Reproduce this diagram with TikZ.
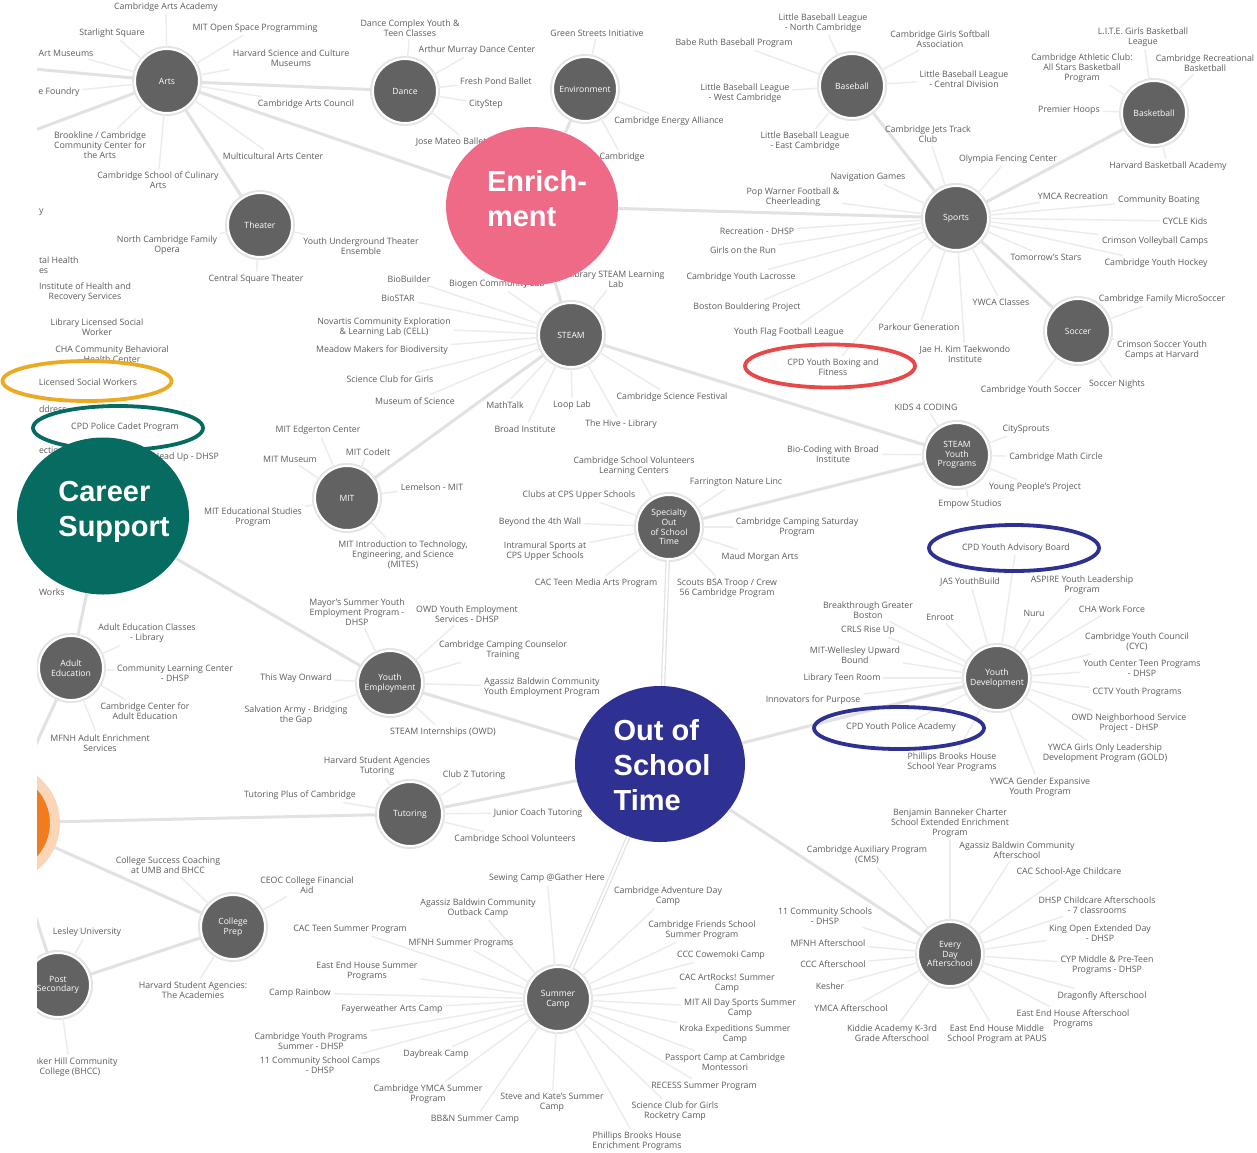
\documentclass[tikz,border=0pt]{standalone}
\usepackage{fontspec}
\setmainfont{Open Sans}
\newfontfamily\bigfont{Liberation Sans}
\usetikzlibrary{shapes.geometric}
\definecolor{hubgray}{RGB}{98,98,98}
\definecolor{halo}{RGB}{228,228,228}
\definecolor{linkgray}{RGB}{226,226,226}
\definecolor{spokegray}{RGB}{236,236,236}
\definecolor{lblgray}{RGB}{92,92,92}
\definecolor{pinkc}{RGB}{239,106,135}
\definecolor{tealc}{RGB}{6,107,96}
\definecolor{navyc}{RGB}{46,49,146}
\definecolor{goldc}{RGB}{234,170,34}
\definecolor{redc}{RGB}{232,72,72}
\definecolor{orangec}{RGB}{240,124,31}
\definecolor{orangering}{RGB}{251,213,184}
\tikzset{
  lbl/.style={font=\fontsize{8.8}{9.9}\selectfont, text=lblgray, align=center, inner sep=1pt, outer sep=2pt},
  hub/.style={circle, minimum size=64pt, inner sep=0pt, fill=hubgray, draw=white, line width=2pt,
    preaction={draw=halo, line width=6pt}, text=white, font=\fontsize{8.6}{9.8}\selectfont, align=center},
  spoke/.style={draw=spokegray, line width=1.4pt},
  link/.style={draw=linkgray, line width=3pt},
  dlink/.style={draw=linkgray, line width=1.2pt, double=white, double distance=2pt},
  big/.style={ellipse, inner sep=0pt, draw=none},
  bigtxt/.style={font=\bigfont\bfseries\fontsize{29}{35}\selectfont, text=white, align=left, inner sep=0pt},
  hl/.style={ellipse, inner sep=0pt, line width=3.8pt, fill=none}
}
\begin{document}
\begin{tikzpicture}[x=1pt,y=-1pt]
\useasboundingbox (0,0) rectangle (1257,1152);
\fill[white] (0,0) rectangle (1257,1152);
\begin{scope}
\clip (37,0) rectangle (1257,1152);
% hubs
\node[hub] (arts) at (167,81) {Arts};
\node[hub] (dance) at (405,91) {Dance};
\node[hub] (env) at (585,89) {Environment};
\node[hub] (baseball) at (852,86) {Baseball};
\node[hub] (basket) at (1154,113) {Basketball};
\node[hub] (theater) at (260,225) {Theater};
\node[hub] (sports) at (956,218) {Sports};
\node[hub] (steam) at (571,335) {STEAM};
\node[hub] (soccer) at (1078,331) {Soccer};
\node[hub] (syp) at (957,455) {STEAM\\Youth\\Programs};
\node[hub] (mit) at (347,498) {MIT};
\node[hub] (spec) at (669,527) {Specialty\\Out\\of School\\Time};
\node[hub] (adulted) at (71,668) {Adult\\Education};
\node[hub] (youthemp) at (390,683) {Youth\\Employment};
\node[hub] (youthdev) at (997,678) {Youth\\Development};
\node[hub] (tutor) at (410,814) {Tutoring};
\node[hub] (college) at (233,927) {College\\Prep};
\node[hub] (postsec) at (58,985) {Post\\Secondary};
\node[hub] (summer) at (558,999) {Summer\\Camp};
\node[hub] (everyday) at (950,954) {Every\\Day\\Afterschool};
\node[circle, minimum size=110pt, inner sep=0pt, fill=orangec, draw=orangering, line width=10pt] (orange) at (0,823) {};
\coordinate (offa1) at (0,66);
\coordinate (offa2) at (0,143);
\coordinate (offae) at (15,790);
\coordinate (offps) at (25,885);
% links among hubs
\draw[link] (arts) -- (dance);
\draw[link] (arts) -- (theater);
\draw[link] (arts) -- (offa1);
\draw[link] (arts) -- (offa2);
\draw[link] (baseball) -- (sports);
\draw[link] (basket) -- (sports);
\draw[link] (soccer) -- (sports);
\draw[link] (steam) -- (syp);
\draw[link] (steam) -- (mit);
\draw[link] (spec) -- (syp);
\draw[link] (adulted) -- (offae);
\draw[link] (postsec) -- (offps);
\draw[link] (orange) -- (tutor);
\draw[link] (orange) -- (college);
\draw[link] (college) -- (postsec);
% labels + spokes
\foreach \n/\x/\y/\t in {1/166/7/{Cambridge Arts Academy}, 2/112/33/{Starlight Square}, 3/255/28/{MIT Open Space Programming}, 4/66/53/{Art Museums}, 5/291/58/{Harvard Science and Culture\\Museums}, 6/59/92/{e Foundry}, 7/306/104/{Cambridge Arts Council}, 8/100/145/{Brookline / Cambridge\\Community Center for\\the Arts}, 9/273/156/{Multicultural Arts Center}, 10/158/180/{Cambridge School of Culinary\\Arts}}
 {\node[lbl] (arts\n) at (\x,\y) {\t}; \draw[spoke] (arts) -- (arts\n);}
\foreach \n/\x/\y/\t in {1/167/245/{North Cambridge Family\\Opera}, 2/361/246/{Youth Underground Theater\\Ensemble}, 3/256/279/{Central Square Theater}}
 {\node[lbl] (theater\n) at (\x,\y) {\t}; \draw[spoke] (theater) -- (theater\n);}
\foreach \n/\x/\y/\t in {1/410/28/{Dance Complex Youth \&\\Teen Classes}, 2/477/50/{Arthur Murray Dance Center}, 3/496/81/{Fresh Pond Ballet}, 4/486/104/{CityStep}, 5/468/142/{Jose Mateo Ballet Theatre}}
 {\node[lbl] (dance\n) at (\x,\y) {\t}; \draw[spoke] (dance) -- (dance\n);}
\foreach \n/\x/\y/\t in {1/597/33/{Green Streets Initiative}, 2/669/121/{Cambridge Energy Alliance}, 3/622/157/{Cambridge}}
 {\node[lbl] (env\n) at (\x,\y) {\t}; \draw[spoke] (env) -- (env\n);}
\foreach \n/\x/\y/\t in {1/823/23/{Little Baseball League\\- North Cambridge}, 2/734/43/{Babe Ruth Baseball Program}, 3/940/39/{Cambridge Girls Softball\\Association}, 4/745/93/{Little Baseball League\\- West Cambridge}, 5/964/79/{Little Baseball League\\- Central Division}, 6/805/141/{Little Baseball League\\- East Cambridge}}
 {\node[lbl] (baseball\n) at (\x,\y) {\t}; \draw[spoke] (baseball) -- (baseball\n);}
\foreach \n/\x/\y/\t in {1/1143/37/{L.I.T.E. Girls Basketball\\League}, 2/1082/68/{Cambridge Athletic Club:\\All Stars Basketball\\Program}, 3/1205/63/{Cambridge Recreational\\Basketball}, 4/1069/110/{Premier Hoops}, 5/1168/166/{Harvard Basketball Academy}}
 {\node[lbl] (basket\n) at (\x,\y) {\t}; \draw[spoke] (basket) -- (basket\n);}
\foreach \n/\x/\y/\t in {1/928/134/{Cambridge Jets Track\\Club}, 2/1008/159/{Olympia Fencing Center}, 3/868/177/{Navigation Games}, 4/793/197/{Pop Warner Football \&\\Cheerleading}, 5/1073/196/{YMCA Recreation}, 6/1159/200/{Community Boating}, 7/1185/221/{CYCLE Kids}, 8/757/231/{Recreation - DHSP}, 9/743/250/{Girls on the Run}, 10/1155/241/{Crimson Volleyball Camps}, 11/1046/257/{Tomorrow's Stars}, 12/1156/263/{Cambridge Youth Hockey}, 13/741/277/{Cambridge Youth Lacrosse}, 14/747/307/{Boston Bouldering Project}, 15/1001/302/{YWCA Classes}, 16/789/332/{Youth Flag Football League}, 17/919/327/{Parkour Generation}, 18/965/354/{Jae H. Kim Taekwondo\\Institute}, 19/833/367/{CPD Youth Boxing and\\Fitness}}
 {\node[lbl] (sports\n) at (\x,\y) {\t}; \draw[spoke] (sports) -- (sports\n);}
\foreach \n/\x/\y/\t in {1/1162/299/{Cambridge Family MicroSoccer}, 2/1162/350/{Crimson Soccer Youth\\Camps at Harvard}, 3/1031/390/{Cambridge Youth Soccer}, 4/1117/384/{Soccer Nights}}
 {\node[lbl] (soccer\n) at (\x,\y) {\t}; \draw[spoke] (soccer) -- (soccer\n);}
\foreach \n/\x/\y/\t in {1/409/279/{BioBuilder}, 2/497/284/{Biogen Community Lab}, 3/616/279/{Library STEAM Learning\\Lab}, 4/398/298/{BioSTAR}, 5/384/327/{Novartis Community Exploration\\\& Learning Lab (CELL)}, 6/382/350/{Meadow Makers for Biodiversity}, 7/390/379/{Science Club for Girls}, 8/415/401/{Museum of Science}, 9/505/405/{MathTalk}, 10/572/405/{Loop Lab}, 11/672/397/{Cambridge Science Festival}, 12/525/429/{Broad Institute}, 13/621/424/{The Hive - Library}}
 {\node[lbl] (steam\n) at (\x,\y) {\t}; \draw[spoke] (steam) -- (steam\n);}
\foreach \n/\x/\y/\t in {1/926/407/{KIDS 4 CODING}, 2/833/454/{Bio-Coding with Broad\\Institute}, 3/1026/429/{CitySprouts}, 4/1056/457/{Cambridge Math Circle}, 5/1035/487/{Young People's Project}, 6/970/504/{Empow Studios}}
 {\node[lbl] (syp\n) at (\x,\y) {\t}; \draw[spoke] (syp) -- (syp\n);}
\foreach \n/\x/\y/\t in {1/318/430/{MIT Edgerton Center}, 2/290/459/{MIT Museum}, 3/368/452/{MIT CodeIt}, 4/432/487/{Lemelson - MIT}, 5/253/517/{MIT Educational Studies\\Program}, 6/403/555/{MIT Introduction to Technology,\\Engineering, and Science\\(MITES)}}
 {\node[lbl] (mit\n) at (\x,\y) {\t}; \draw[spoke] (mit) -- (mit\n);}
\foreach \n/\x/\y/\t in {1/634/466/{Cambridge School Volunteers\\Learning Centers}, 2/736/482/{Farrington Nature Linc}, 3/579/495/{Clubs at CPS Upper Schools}, 4/540/522/{Beyond the 4th Wall}, 5/797/527/{Cambridge Camping Saturday\\Program}, 6/545/551/{Intramural Sports at\\CPS Upper Schools}, 7/760/557/{Maud Morgan Arts}, 8/596/583/{CAC Teen Media Arts Program}, 9/727/588/{Scouts BSA Troop / Crew\\56 Cambridge Program}}
 {\node[lbl] (spec\n) at (\x,\y) {\t}; \draw[spoke] (spec) -- (spec\n);}
\foreach \n/\x/\y/\t in {1/1016/548/{CPD Youth Advisory Board}, 2/970/582/{JAS YouthBuild}, 3/1082/585/{ASPIRE Youth Leadership\\Program}, 4/868/610/{Breakthrough Greater\\Boston}, 5/940/617/{Enroot}, 6/1034/613/{Nuru}, 7/1112/609/{CHA Work Force}, 8/868/630/{CRLS Rise Up}, 9/855/655/{MIT-Wellesley Upward\\Bound}, 10/1137/642/{Cambridge Youth Council\\(CYC)}, 11/1142/668/{Youth Center Teen Programs\\- DHSP}, 12/842/678/{Library Teen Room}, 13/1137/692/{CCTV Youth Programs}, 14/813/700/{Innovators for Purpose}, 15/1129/723/{OWD Neighborhood Service\\Project - DHSP}, 16/901/727/{CPD Youth Police Academy}, 17/1105/753/{YWCA Girls Only Leadership\\Development Program (GOLD)}, 18/952/762/{Phillips Brooks House\\School Year Programs}, 19/1040/787/{YWCA Gender Expansive\\Youth Program}}
 {\node[lbl] (youthdev\n) at (\x,\y) {\t}; \draw[spoke] (youthdev) -- (youthdev\n);}
\foreach \n/\x/\y/\t in {1/357/612/{Mayor's Summer Youth\\Employment Program -\\DHSP}, 2/467/614/{OWD Youth Employment\\Services - DHSP}, 3/503/650/{Cambridge Camping Counselor\\Training}, 4/296/678/{This Way Onward}, 5/542/687/{Agassiz Baldwin Community\\Youth Employment Program}, 6/296/715/{Salvation Army - Bridging\\the Gap}, 7/443/732/{STEAM Internships (OWD)}}
 {\node[lbl] (youthemp\n) at (\x,\y) {\t}; \draw[spoke] (youthemp) -- (youthemp\n);}
\foreach \n/\x/\y/\t in {1/147/633/{Adult Education Classes\\- Library}, 2/175/673/{Community Learning Center\\- DHSP}, 3/145/711/{Cambridge Center for\\Adult Education}, 4/100/743/{MFNH Adult Enrichment\\Services}}
 {\node[lbl] (adulted\n) at (\x,\y) {\t}; \draw[spoke] (adulted) -- (adulted\n);}
\foreach \n/\x/\y/\t in {1/377/766/{Harvard Student Agencies\\Tutoring}, 2/474/775/{Club Z Tutoring}, 3/300/795/{Tutoring Plus of Cambridge}, 4/538/813/{Junior Coach Tutoring}, 5/515/839/{Cambridge School Volunteers}}
 {\node[lbl] (tutor\n) at (\x,\y) {\t}; \draw[spoke] (tutor) -- (tutor\n);}
\foreach \n/\x/\y/\t in {1/168/865/{College Success Coaching\\at UMB and BHCC}, 2/307/885/{CEOC College Financial\\Aid}, 3/193/990/{Harvard Student Agencies:\\The Academies}}
 {\node[lbl] (college\n) at (\x,\y) {\t}; \draw[spoke] (college) -- (college\n);}
\foreach \n/\x/\y/\t in {1/87/932/{Lesley University}, 2/70/1067/{Bunker Hill Community\\College (BHCC)}}
 {\node[lbl] (postsec\n) at (\x,\y) {\t}; \draw[spoke] (postsec) -- (postsec\n);}
\foreach \n/\x/\y/\t in {1/350/929/{CAC Teen Summer Program}, 2/547/878/{Sewing Camp @Gather Here}, 3/478/908/{Agassiz Baldwin Community\\Outback Camp}, 4/461/943/{MFNH Summer Programs}, 5/367/971/{East End House Summer\\Programs}, 6/300/993/{Camp Rainbow}, 7/392/1009/{Fayerweather Arts Camp}, 8/311/1041/{Cambridge Youth Programs\\Summer - DHSP}, 9/320/1065/{11 Community School Camps\\- DHSP}, 10/436/1054/{Daybreak Camp}, 11/428/1094/{Cambridge YMCA Summer\\Program}, 12/552/1102/{Steve and Kate's Summer\\Camp}, 13/475/1119/{BB\&N Summer Camp}, 14/637/1141/{Phillips Brooks House\\Enrichment Programs}, 15/668/896/{Cambridge Adventure Day\\Camp}, 16/702/930/{Cambridge Friends School\\Summer Program}, 17/721/955/{CCC Cowemoki Camp}, 18/727/983/{CAC ArtRocks! Summer\\Camp}, 19/740/1008/{MIT All Day Sports Summer\\Camp}, 20/735/1034/{Kroka Expeditions Summer\\Camp}, 21/725/1062/{Passport Camp at Cambridge\\Montessori}, 22/704/1086/{RECESS Summer Program}, 23/675/1111/{Science Club for Girls\\Rocketry Camp}}
 {\node[lbl] (summer\n) at (\x,\y) {\t}; \draw[spoke] (summer) -- (summer\n);}
\foreach \n/\x/\y/\t in {1/867/855/{Cambridge Auxiliary Program\\(CMS)}, 2/950/823/{Benjamin Banneker Charter\\School Extended Enrichment\\Program}, 3/1017/850/{Agassiz Baldwin Community\\Afterschool}, 4/1069/872/{CAC School-Age Childcare}, 5/1097/905/{DHSP Childcare Afterschools\\- 7 classrooms}, 6/825/916/{11 Community Schools\\- DHSP}, 7/1100/933/{King Open Extended Day\\- DHSP}, 8/828/943/{MFNH Afterschool}, 9/833/964/{CCC Afterschool}, 10/1107/965/{CYP Middle \& Pre-Teen\\Programs - DHSP}, 11/830/986/{Kesher}, 12/1102/996/{Dragonfly Afterschool}, 13/851/1008/{YMCA Afterschool}, 14/1073/1019/{East End House Afterschool\\Programs}, 15/892/1033/{Kiddie Academy K-3rd\\Grade Afterschool}, 16/997/1034/{East End House Middle\\School Program at PAUS}}
 {\node[lbl] (everyday\n) at (\x,\y) {\t}; \draw[spoke] (everyday) -- (everyday\n);}
% left-edge labels without a visible hub
\node[lbl, anchor=west] (m0) at (36,212) {y};
\node[lbl, anchor=west, align=left] (m1) at (36,265) {tal Health\\es};
\node[lbl] (m2) at (85,292) {Institute of Health and\\Recovery Services};
\node[lbl] (m3) at (97,327) {Library Licensed Social\\Worker};
\node[lbl] (m4) at (112,354) {CHA Community Behavioral\\Health Center};
\node[lbl] (m5) at (88,382) {Licensed Social Workers};
\node[lbl, anchor=west] (m6) at (36,409) {ddress};
\node[lbl] (m7) at (125,427) {CPD Police Cadet Program};
\node[lbl, anchor=west] (m8) at (36,450) {ection};
\node[lbl, anchor=east] (m9) at (222,457) {Head Up - DHSP};
\node[lbl, anchor=west] (m10) at (36,592) {Works};
\end{scope}
% big category circles
\node[big, fill=pinkc, minimum width=172pt, minimum height=158pt] (enrich) at (532,206) {};
\node[big, fill=tealc, minimum width=172pt, minimum height=157pt] (career) at (103,516) {};
\node[big, fill=navyc, minimum width=170pt, minimum height=156pt] (ost) at (660,764) {};
\draw[link] (arts) -- (enrich);
\draw[link] (env) -- (enrich);
\draw[link] (enrich) -- (sports);
\draw[link] (enrich) -- (steam);
\draw[link] (career) -- (youthemp);
\draw[link] (career) -- (adulted);
\draw[link] (youthemp) -- (ost);
\draw[link] (tutor) -- (ost);
\draw[dlink] (spec) -- (ost);
\draw[link] (ost) -- (youthdev);
\draw[dlink] (ost) -- (summer);
\draw[link] (ost) -- (everyday);
\node[bigtxt] (enrichtxt) at (537,199) {Enrich-\\ment};
\node[bigtxt] (careertxt) at (114,512) {Career\\Support};
\node[bigtxt] (osttxt) at (662,765) {Out of\\School\\Time};
% highlight ellipses
\node[hl, draw=goldc, minimum width=169pt, minimum height=40pt] (hlgold) at (87,381) {};
\node[hl, draw=tealc, minimum width=170pt, minimum height=44pt] (hlteal) at (118,428) {};
\node[hl, draw=redc, minimum width=170pt, minimum height=43pt] (hlred) at (830,366) {};
\node[hl, draw=navyc, minimum width=170pt, minimum height=46pt] (hlnavy1) at (1014,548) {};
\node[hl, draw=navyc, minimum width=170pt, minimum height=42pt] (hlnavy2) at (899,728) {};
\end{tikzpicture}
\end{document}
